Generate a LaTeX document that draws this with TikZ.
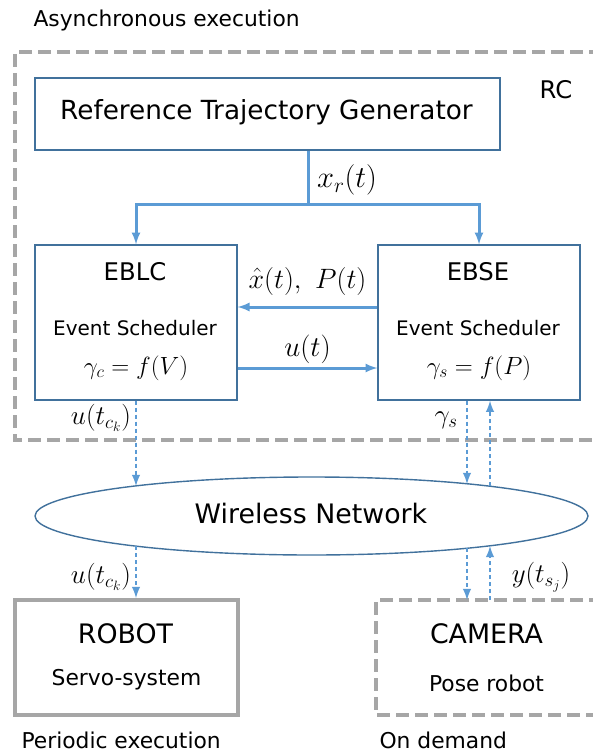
\RequirePackage{fix-cm}
\documentclass[tikz,border=0pt]{standalone}
\usepackage{fontspec}
\setmainfont{DejaVu Sans}
\usetikzlibrary{shapes.geometric}
\definecolor{boxblue}{RGB}{65,113,156}
\definecolor{flowblue}{RGB}{91,155,213}
\definecolor{frame}{RGB}{166,166,166}
\tikzset{
	blk/.style={draw=boxblue,line width=1.4pt,inner sep=0pt},
	flow/.style={draw=flowblue,line width=3pt},
	dots/.style={draw=flowblue,line width=2.8pt,dash pattern=on 4pt off 3pt,-latex},
	grayframe/.style={draw=frame,line width=4pt,dash pattern=on 13pt off 6pt},
	big/.style={font=\fontsize{24.3}{28}\selectfont},
	huge/.style={font=\fontsize{26.8}{30}\selectfont},
	mid/.style={font=\fontsize{21.8}{25}\selectfont},
	sched/.style={font=\fontsize{20}{23}\selectfont},
	mform/.style={font=\fontsize{24.9}{28}\selectfont},
	msmall/.style={font=\fontsize{27}{31}\selectfont}
}
\begin{document}
\begin{tikzpicture}[x=1pt,y=-1pt]
	\useasboundingbox (0,0) rectangle (592,751);
	% frames
	\draw[grayframe] (640,52) -- (15,52) -- (15,440) -- (640,440);
	\node[mid,anchor=base west] (async) at (30,27) {Asynchronous execution};
	\node[big] (rc) at (556,90) {RC};
	% blocks
	\node[blk,minimum width=465,minimum height=72] (rtg) at (267.5,114) {};
	\node[font=\fontsize{26.3}{30}\selectfont] (rtgT) at (266.5,112) {Reference Trajectory Generator};
	\node[blk,minimum width=202,minimum height=155] (eblc) at (136,322.5) {};
	\node[big] (eblcT) at (135,272) {EBLC};
	\node[sched] (eblcS) at (135,328) {Event Scheduler};
	\node[mform] (eblcF) at (136,368) {$\gamma_c = f(V)$};
	\node[blk,minimum width=202,minimum height=155] (ebse) at (479,322.5) {};
	\node[big] (ebseT) at (478,272) {EBSE};
	\node[sched] (ebseS) at (478,328) {Event Scheduler};
	\node[mform] (ebseF) at (479,368) {$\gamma_s = f(P)$};
	\node[blk,ellipse,minimum width=553,minimum height=78] (wn) at (311.5,516) {};
	\node[huge] (wnT) at (311,514) {Wireless Network};
	\node[draw=frame,line width=4pt,minimum width=223,minimum height=115,inner sep=0pt] (robot) at (126.5,657.5) {};
	\node[huge] (robotT) at (125.5,634) {ROBOT};
	\node[mid] (robotS) at (126.5,680) {Servo-system};
	\draw[grayframe] (640,600) -- (376,600) -- (376,715) -- (640,715);
	\coordinate (cam) at (487,600);
	\node[huge] (camT) at (486.5,634) {CAMERA};
	\node[mid] (camS) at (486.5,683) {Pose robot};
	\node[mid,anchor=base west] (per) at (18,748) {Periodic execution};
	\node[mid,anchor=base west] (dem) at (376,748) {On demand};
	% flows inside RC
	\coordinate (xr) at (308,205);
	\draw[flow] (rtg.south -| xr) -- (xr);
	\draw[flow,-latex] (xr) -| (eblc.north);
	\draw[flow,-latex] (xr) -| (ebse.north);
	\node[font=\fontsize{30.5}{34}\selectfont] (xrL) at (347,180) {$x_r(t)$};
	\draw[flow,-latex] ([yshift=15.5pt]ebse.west) -- ([yshift=15.5pt]eblc.east);
	\node[font=\fontsize{28}{32}\selectfont] (xhat) at (307.5,281) {$\hat{x}(t),\ P(t)$};
	\draw[flow,-latex] ([yshift=-45.5pt]eblc.east) -- ([yshift=-45.5pt]ebse.west);
	\node[font=\fontsize{28.7}{33}\selectfont] (ut) at (307.5,349) {$u(t)$};
	% network links
	\coordinate (wnA) at (136,486);
	\coordinate (wnB) at (136,546);
	\coordinate (wnC) at (467,484);
	\coordinate (wnD) at (490,486);
	\coordinate (wnE) at (467,548);
	\coordinate (wnF) at (490,546);
	\draw[dots] (eblc.south) -- (wnA);
	\draw[dots] (wnB) -- (wnB |- robot.north);
	\draw[dots] ([xshift=-12pt]ebse.south) -- (wnC);
	\draw[dots] (wnD) -- ([xshift=11pt]ebse.south);
	\draw[dots] (wnE) -- (wnE |- cam);
	\draw[dots] (wnF |- cam) -- (wnF);
	\node[msmall] (uc1) at (101,418) {$u(t_{c_k})$};
	\node[msmall] (uc2) at (101,577) {$u(t_{c_k})$};
	\node[msmall] (gs) at (446,420) {$\gamma_s$};
	\node[msmall] (ys) at (541,577) {$y(t_{s_j})$};
\end{tikzpicture}
\end{document}
